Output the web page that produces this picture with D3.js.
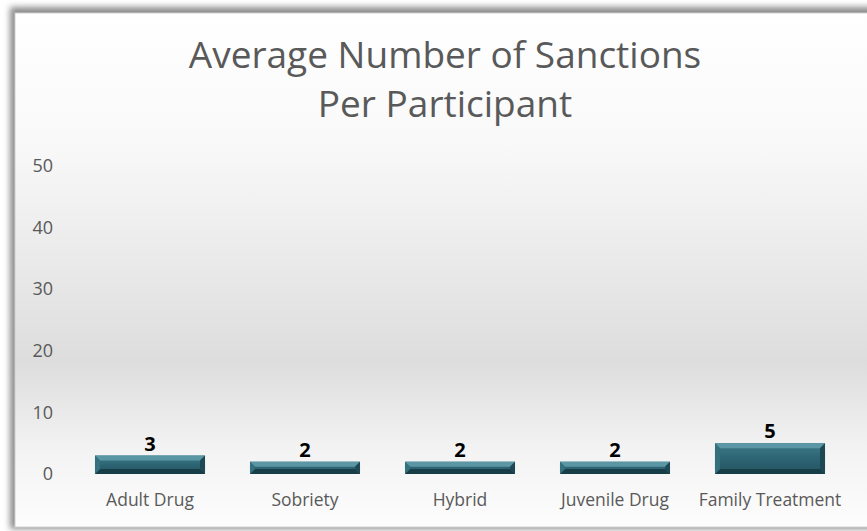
<!DOCTYPE html>
<html><head><meta charset="utf-8">
<script src="https://cdn.jsdelivr.net/npm/d3@7"></script>
<style>html,body{margin:0;padding:0;background:#fff;}svg{display:block;}</style>
</head><body>
<script>
const categories = ["Adult Drug", "Sobriety", "Hybrid", "Juvenile Drug", "Family Treatment"];
const values = [3, 2, 2, 2, 5];
const yTicks = [0, 10, 20, 30, 40, 50];
const titleLines = ["Average Number of Sanctions", "Per Participant"];

const W = 867, H = 531;
const svg = d3.select("body").append("svg").attr("width", W).attr("height", H);
const defs = svg.append("defs");

const bg = defs.append("linearGradient").attr("id","bg").attr("x1",0).attr("y1",0).attr("x2",0).attr("y2",1);
bg.append("stop").attr("offset","0%").attr("stop-color","#ffffff");
bg.append("stop").attr("offset","25%").attr("stop-color","#f9f9f9");
bg.append("stop").attr("offset","68%").attr("stop-color","#dddddd");
bg.append("stop").attr("offset","85%").attr("stop-color","#f3f3f3");
bg.append("stop").attr("offset","100%").attr("stop-color","#fdfdfd");

const face = defs.append("linearGradient").attr("id","face").attr("x1",0).attr("y1",0).attr("x2",0).attr("y2",1);
face.append("stop").attr("offset","0%").attr("stop-color","#3f7a89");
face.append("stop").attr("offset","45%").attr("stop-color","#2e6676");
face.append("stop").attr("offset","100%").attr("stop-color","#24535f");

const blur = defs.append("filter").attr("id","sh").attr("x","-5%").attr("y","-5%").attr("width","110%").attr("height","110%");
blur.append("feGaussianBlur").attr("stdDeviation",3);

// frame shadow
svg.append("rect").attr("x",10).attr("y",7).attr("width",W+20).attr("height",522)
  .attr("fill","#8c8c8c").attr("filter","url(#sh)");
svg.append("rect").attr("x",15).attr("y",13).attr("width",W+10).attr("height",514)
  .attr("fill","url(#bg)").attr("stroke","#d0d0d0").attr("stroke-width",1);

const x = d3.scaleBand().domain(categories).range([72.5, 847.5]).paddingInner(0.29).paddingOuter(0.145);
const y = d3.scaleLinear().domain([0, 50]).range([474, 166]);

const FONT = "'Open Sans', sans-serif";

// title
const title = svg.append("text").attr("text-anchor","middle").attr("fill","#595959")
  .style("font-family",FONT).style("font-size","37px");
titleLines.forEach((t,i)=>title.append("tspan").attr("x",445).attr("y",[68,117][i]).text(t));

// y axis
const yAxis = d3.axisLeft(y).tickValues(yTicks).tickSize(0).tickPadding(0);
const ya = svg.append("g").attr("transform","translate(53,0)").call(yAxis);
ya.select(".domain").remove();
ya.selectAll("text").attr("fill","#595959").style("font-family",FONT).style("font-size","18px");

// x axis
const xAxis = d3.axisBottom(x).tickSize(0).tickPadding(0);
const xa = svg.append("g").attr("transform","translate(0,494)").call(xAxis);
xa.select(".domain").remove();
xa.selectAll("text").attr("fill","#595959").style("font-family",FONT).style("font-size","17.5px");

// bevelled bars
const bev = 5;
const bars = svg.append("g").selectAll("g").data(values.map((v,i)=>({v, c:categories[i]}))).join("g");
bars.each(function(d){
  const g = d3.select(this);
  const x0 = x(d.c), x1 = x0 + x.bandwidth(), y0 = y(d.v), y1 = y(0);
  const b = Math.min(bev, (y1-y0)/2 - 1);
  g.append("rect").attr("x",x0).attr("y",y0).attr("width",x1-x0).attr("height",y1-y0).attr("fill","url(#face)");
  const poly = (pts, fill) => g.append("polygon").attr("points", pts.map(p=>p.join(",")).join(" ")).attr("fill", fill);
  poly([[x0,y0],[x1,y0],[x1-b,y0+b],[x0+b,y0+b]], "#5b96a4");
  poly([[x0,y1],[x1,y1],[x1-b,y1-b],[x0+b,y1-b]], "#173d47");
  poly([[x0,y0],[x0+b,y0+b],[x0+b,y1-b],[x0,y1]], "#35707f");
  poly([[x1,y0],[x1-b,y0+b],[x1-b,y1-b],[x1,y1]], "#1d4854");
});

// labels
svg.append("g").selectAll("text").data(values.map((v,i)=>({v, c:categories[i]}))).join("text")
  .attr("x", d=>x(d.c)+x.bandwidth()/2).attr("y", d=>y(d.v)-5)
  .attr("text-anchor","middle").attr("fill","#000").style("font-weight","bold")
  .style("font-family",FONT).style("font-size","20px")
  .text(d=>d.v);
</script>
</body></html>
